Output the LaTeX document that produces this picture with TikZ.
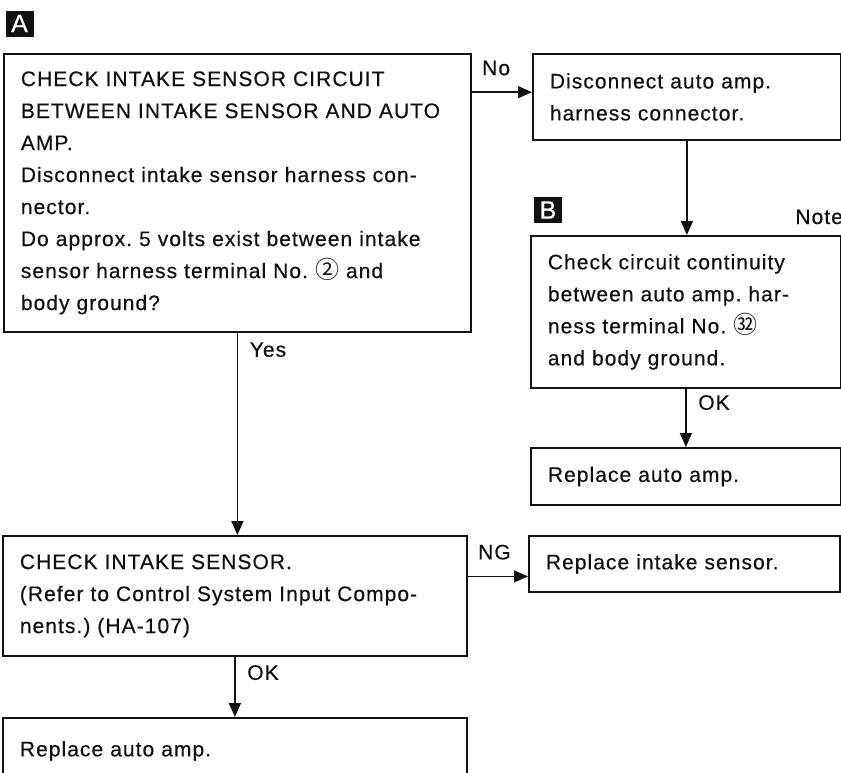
\documentclass[tikz,border=0pt]{standalone}
\usepackage{fontspec}
\setmainfont[LetterSpace=5, FakeBold=0.5]{Liberation Sans}
\newfontfamily\cjk{Noto Sans CJK SC}
\usetikzlibrary{arrows.meta,calc}
\definecolor{ink}{HTML}{111111}
\newcommand{\term}[1]{{\cjk\fontsize{12pt}{16pt}\selectfont #1}}
\newcommand{\flowfont}{\fontsize{10.5pt}{16pt}\selectfont\frenchspacing}

\begin{document}
\begin{tikzpicture}[x=0.5pt, y=-0.5pt, >={Triangle[length=7pt,width=6pt]}, line cap=round,
  box/.style={draw=ink, line width=.9pt, anchor=north west, align=left, inner xsep=8.5pt, inner ysep=0pt, font=\flowfont, text=ink},
  flow/.style={->, draw=ink, line width=.75pt},
  lbl/.style={anchor=base west, inner sep=0pt, font=\flowfont, text=ink},
  tag/.style={fill=ink, text=white, minimum width=14pt, minimum height=13pt, inner sep=0pt, font=\fontsize{12.5pt}{12pt}\selectfont}]

\clip (0,0) rectangle (841,772);

% ================= left column =================
\node[tag] (tagA) at (19.5,23.5) {A};
\node[box, text width=216.5pt, minimum height=139pt] (chkCirc) at (3,53) {%
  CHECK INTAKE SENSOR CIRCUIT\\
  BETWEEN INTAKE SENSOR AND AUTO\\
  AMP.\\
  Disconnect intake sensor harness con-\\
  nector.\\
  Do approx. 5 volts exist between intake\\
  sensor harness terminal No. \term{②} and\\
  body ground?};
\node[box, text width=215pt, minimum height=60pt] (chkSens) at (2,535) {%
  CHECK INTAKE SENSOR.\\
  (Refer to Control System Input Compo-\\
  nents.) (HA-107)};
\node[box, text width=215pt, minimum height=33pt] (repAmpL) at (2,717) {Replace auto amp.};

% ================= right column =================
\node[box, text width=137pt, minimum height=43pt] (discon) at (532,53) {%
  Disconnect auto amp.\\
  harness connector.};
\node[tag] (tagB) at (548,210) {B};
\node[lbl] (note) at (795,224) {Note};
\node[box, text width=138pt, minimum height=76pt] (contin) at (530,235) {%
  Check circuit continuity\\
  between auto amp. har-\\
  ness terminal No. \term{㉜}\\
  and body ground.};
\node[box, text width=138pt, minimum height=28.5pt] (repAmpR) at (530,447) {Replace auto amp.};
\node[box, text width=138.5pt, minimum height=28pt] (repSens) at (528,535) {Replace intake sensor.};

% ================= arrows =================
\draw[flow] ($(chkCirc.north east)!.14!(chkCirc.south east)$) coordinate (no) -- (no -| discon.west);
\node[lbl] (lblNo) at ($(no)+(10,-17)$) {No};
\draw[flow] (chkCirc.south) coordinate (yes) -- (yes |- chkSens.north);
\node[lbl] (lblYes) at ($(yes)+(12,24)$) {Yes};
\draw[flow] (discon.south) -- (discon.south |- contin.north);
\draw[flow] (contin.south) coordinate (okR) -- (okR |- repAmpR.north);
\node[lbl] (lblOkR) at ($(okR)+(12,21)$) {OK};
\draw[flow] ($(chkSens.north east)!.34!(chkSens.south east)$) coordinate (ng) -- (ng -| repSens.west);
\node[lbl] (lblNg) at ($(ng)+(10,-17)$) {NG};
\draw[flow] (chkSens.south) coordinate (okL) -- (okL |- repAmpL.north);
\node[lbl] (lblOkL) at ($(okL)+(12,23)$) {OK};

\end{tikzpicture}
\end{document}
